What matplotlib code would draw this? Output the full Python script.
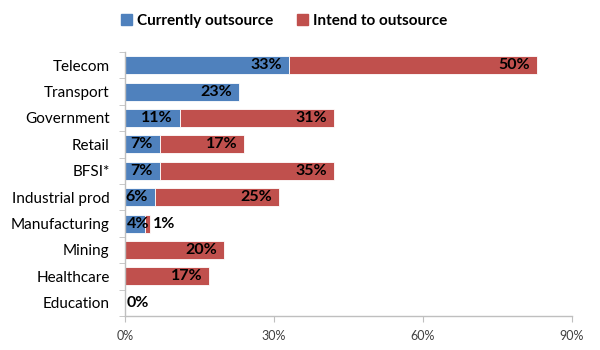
import matplotlib
matplotlib.use("Agg")
import matplotlib.pyplot as plt
from matplotlib.patches import Patch

plt.rcParams['font.family'] = ['Lato', 'DejaVu Sans']

categories = ["Telecom", "Transport", "Government", "Retail", "BFSI*",
              "Industrial prod", "Manufacturing", "Mining", "Healthcare", "Education"]
currently = [33, 23, 11, 7, 7, 6, 4, None, None, None]
intend = [50, None, 31, 17, 35, 25, 1, 20, 17, 0]
xticks = [0, 30, 60, 90]
xticklabels = ["0%", "30%", "60%", "90%"]

blue = "#4F81BD"
red = "#C0504D"
axis_grey = "#BFBFBF"

fig = plt.figure(figsize=(6, 3.5), dpi=100)
ax = fig.add_axes([125/600, 1 - 316/350, (572 - 125)/600, (316 - 52)/350])

n = len(categories)
ypos = list(range(n))
bar_h = 0.68


def label_inside(value, start, i):
    # small segments get their label pinned to the segment start
    if value < 6:
        ax.annotate(f"{value}%", (start, i), xytext=(1.5, 0), textcoords="offset points",
                    ha="left", va="center", fontsize=11.5, fontweight="bold")
    else:
        ax.annotate(f"{value}%", (start + value, i), xytext=(-5, 0), textcoords="offset points",
                    ha="right", va="center", fontsize=11.5, fontweight="bold")


for i, (c, r) in enumerate(zip(currently, intend)):
    cv = c or 0
    rv = r or 0
    if cv:
        ax.barh(i, cv, height=bar_h, color=blue, edgecolor="white", linewidth=0.6)
        label_inside(c, 0, i)
    if rv:
        ax.barh(i, rv, left=cv, height=bar_h, color=red, edgecolor="white", linewidth=0.6)
    if r is not None:
        end = cv + rv
        if rv >= 3 or cv == 0:
            if rv == 0:
                ax.annotate(f"{r}%", (0, i), xytext=(1.5, 0), textcoords="offset points",
                            ha="left", va="center", fontsize=11.5, fontweight="bold")
            else:
                label_inside(r, cv, i)
        else:
            ax.annotate(f"{r}%", (end, i), xytext=(2.5, 0), textcoords="offset points",
                        ha="left", va="center", fontsize=11.5, fontweight="bold")

ax.set_xlim(0, 90)
ax.set_ylim(n - 0.5, -0.5)
ax.set_xticks(xticks)
ax.set_xticklabels(xticklabels, fontsize=9, color="#404040")
ax.set_yticks(ypos)
ax.set_yticklabels(categories, fontsize=11)
ax.tick_params(axis="y", length=0, pad=11)
ax.set_yticks([y + 0.5 for y in range(-1, n)], minor=True)
ax.tick_params(axis="y", which="minor", length=4, color=axis_grey, direction="out")
ax.tick_params(axis="x", length=4, color=axis_grey, direction="out", pad=6)

for side in ["top", "right"]:
    ax.spines[side].set_visible(False)
for side in ["left", "bottom"]:
    ax.spines[side].set_color(axis_grey)
    ax.spines[side].set_linewidth(1.0)

handles = [Patch(color=blue, label="Currently outsource"),
           Patch(color=red, label="Intend to outsource")]
leg = fig.legend(handles=handles, loc="center", bbox_to_anchor=(284/600, 1 - 21/350),
                 ncol=2, frameon=False, handlelength=0.7, handleheight=0.7,
                 handletextpad=0.3, columnspacing=1.6,
                 prop={"size": 11, "weight": "bold"})

fig.savefig("out.png", dpi=100)
